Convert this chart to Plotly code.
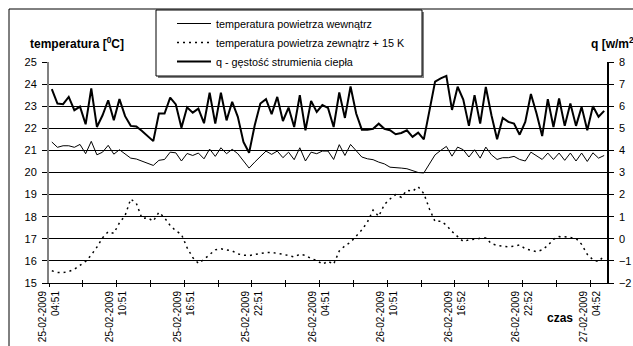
import plotly.graph_objects as go

# ---------------- data ----------------
tick_dates = ["25-02-2009", "25-02-2009", "25-02-2009", "25-02-2009",
              "26-02-2009", "26-02-2009", "26-02-2009", "26-02-2009",
              "27-02-2009"]
tick_times = ["04:51", "10:51", "16:51", "22:51",
              "04:51", "10:51", "16:52", "22:52", "04:52"]

# indoor air temperature [degC] (left axis)
t_inside = [
    21.38, 21.14, 21.21, 21.21, 21.14, 21.27, 20.85, 21.41, 20.80, 20.92,
    21.23, 20.83, 21.03, 20.85, 20.65, 20.61, 20.52, 20.42, 20.32, 20.55,
    20.59, 20.92, 20.89, 20.52, 20.86, 20.77, 20.88, 20.62, 21.06, 20.73,
    21.12, 20.85, 21.05,
    20.85, 20.52, 20.20, 20.47, 20.74, 20.97, 20.82, 20.97, 20.67, 20.92,
    20.58, 21.12, 20.52, 20.92, 20.85, 20.97, 20.97, 20.59, 21.26, 20.77,
    21.27, 20.97, 20.70, 20.62, 20.58, 20.47, 20.39, 20.24, 20.23, 20.20,
    20.17, 20.09, 20.00,
    19.98, 20.39, 20.80, 21.00, 21.18, 20.74, 21.15, 21.03, 20.70, 21.03,
    20.65, 21.15, 20.80, 20.59, 20.67, 20.67, 20.73, 20.59, 20.52, 20.92,
    20.74, 20.59, 20.88, 20.59, 20.88, 20.55, 20.88, 20.52, 20.88, 20.50,
    20.89, 20.65, 20.77,
]

# outdoor air temperature + 15 K [degC] (left axis)
t_outside_p15 = [
    15.55, 15.48, 15.47, 15.52, 15.62, 15.78, 15.98, 16.27, 16.62, 17.05,
    17.32, 17.25, 17.72, 18.05, 18.80, 18.60, 17.92, 17.95, 17.80, 18.20,
    17.95, 17.60, 17.36, 17.20, 16.60, 16.15, 15.89, 16.07, 16.28, 16.50,
    16.55, 16.50, 16.45,
    16.32, 16.26, 16.24, 16.28, 16.35, 16.38, 16.38, 16.35, 16.30, 16.24,
    16.18, 16.30, 16.25, 16.10, 16.03, 15.85, 15.98, 15.85, 16.45, 16.68,
    16.85, 17.12, 17.40, 17.76, 18.30, 18.02, 18.55, 18.80, 19.00, 18.88,
    19.20, 19.15, 19.35,
    19.05, 18.35, 17.78, 17.80, 17.62, 17.33, 17.10, 16.88, 16.95, 17.00,
    17.02, 17.04, 16.78, 16.70, 16.66, 16.64, 16.67, 16.72, 16.55, 16.48,
    16.42, 16.50, 16.70, 16.98, 17.10, 17.09, 17.07, 17.02, 16.75, 16.30,
    16.05, 15.97, 16.23,
]

# heat flux density q [W/m2] (right axis)
q_flux = [
    6.77, 6.12, 6.09, 6.42, 5.82, 5.98, 5.18, 6.80, 5.06, 5.59,
    6.27, 5.36, 6.32, 5.55, 5.11, 5.08, 4.88, 4.64, 4.42, 5.67,
    5.67, 6.39, 6.08, 5.03, 5.95, 5.71, 5.89, 5.23, 6.61, 5.21,
    6.61, 5.36, 6.20,
    5.52, 4.38, 3.89, 5.14, 6.12, 6.32, 5.64, 6.42, 5.33, 5.94,
    5.06, 6.50, 4.91, 6.24, 5.74, 6.05, 5.92, 5.06, 6.62, 5.47,
    6.89, 5.67, 4.94, 4.94, 4.98, 5.21, 4.98, 4.91, 4.73, 4.79,
    4.91, 4.61, 4.80,
    4.50, 5.80, 7.11, 7.26, 7.37, 5.83, 6.88, 6.30, 5.11, 6.50,
    5.21, 6.87, 5.59, 4.50, 5.47, 5.29, 5.21, 4.71, 5.29, 6.55,
    5.67, 4.65, 6.32, 5.06, 6.35, 5.11, 6.12, 5.11, 5.97, 4.91,
    6.00, 5.52, 5.79,
]

names = ["temperatura powietrza wewnątrz",
         "temperatura powietrza zewnątrz + 15 K",
         "q - gęstość strumienia ciepła"]

# ---------------- figure ----------------
W, H = 633, 346
L, R, T, B = 49, 26, 62, 63
PW, PH = W - L - R, H - T - B


def xp(px):
    return (px - L) / PW


def yp(py):
    return (H - B - py) / PH


n = len(q_flux)
x = [i + 0.5 for i in range(n)]          # category centres
major_vals = list(range(0, n, 12))
major_text = [d + "<br>" + t for d, t in zip(tick_dates, tick_times)]
minor_vals = list(range(6, n, 12))
all_vals = list(range(0, n, 6))

FONT = "Liberation Sans, Arial, sans-serif"

fig = go.Figure()
fig.add_trace(go.Scatter(x=x, y=t_inside, mode="lines", name=names[0],
                         line=dict(color="black", width=1)))
fig.add_trace(go.Scatter(x=x, y=t_outside_p15, mode="lines", name=names[1],
                         line=dict(color="black", width=1.5, dash="2px,4px"),
                         xaxis="x2"))
fig.add_trace(go.Scatter(x=x, y=q_flux, mode="lines", name=names[2],
                         line=dict(color="black", width=2), yaxis="y2"))

fig.update_layout(
    width=W, height=H,
    margin=dict(l=L, r=R, t=T, b=B, autoexpand=False),
    paper_bgcolor="white", plot_bgcolor="white",
    font=dict(family=FONT, size=11, color="black"),
    xaxis=dict(range=[0, n], tickmode="array", tickvals=major_vals,
               ticktext=major_text, tickangle=-90, ticks="outside", ticklen=3,
               tickcolor="black", showline=True, linecolor="black",
               linewidth=1, showgrid=False, zeroline=False,
               tickfont=dict(size=10),
               minor=dict(tickmode="array", tickvals=minor_vals,
                          ticks="outside", ticklen=3, tickcolor="black",
                          showgrid=False)),
    xaxis2=dict(overlaying="x", range=[0, n], tickmode="array",
                tickvals=all_vals, ticks="inside", ticklen=3,
                tickcolor="black", showticklabels=False, showgrid=False,
                zeroline=False, showline=False, anchor="y", side="bottom"),
    yaxis=dict(range=[15, 25], tick0=15, dtick=1, showgrid=True,
               gridcolor="black", gridwidth=1, ticks="outside", ticklen=5,
               tickcolor="black", showline=True, linecolor="#808080",
               linewidth=2, zeroline=False, ticklabelstandoff=3),
    yaxis2=dict(overlaying="y", side="right", range=[-2, 8], tick0=-2,
                dtick=1, showgrid=False, ticks="outside", ticklen=5,
                tickcolor="black", showline=True, linecolor="black",
                linewidth=1.5, zeroline=False, ticklabelstandoff=3),
    showlegend=True,
    legend=dict(x=xp(172), y=yp(9), xanchor="left", yanchor="top",
                bgcolor="rgba(0,0,0,0)", borderwidth=0, itemwidth=34,
                font=dict(size=10.8, color="black")),
)

fig.add_annotation(text="<b>temperatura [<sup>0</sup>C]</b>", xref="paper",
                   yref="paper", x=xp(28), y=yp(43), xanchor="left",
                   yanchor="middle", showarrow=False, font=dict(size=12))
fig.add_annotation(text="<b>q [w/m<sup>2</sup>]</b>", xref="paper",
                   yref="paper", x=xp(589), y=yp(43), xanchor="left",
                   yanchor="middle", showarrow=False, font=dict(size=12))
fig.add_annotation(text="<b>czas</b>", xref="paper", yref="paper",
                   x=xp(560), y=yp(318), xanchor="center", yanchor="middle",
                   showarrow=False, font=dict(size=12))

# chart-area border (top and left edges are visible in the picture)
fig.add_shape(type="line", xref="paper", yref="paper", x0=xp(9), x1=xp(700),
              y0=yp(9), y1=yp(9), line=dict(color="black", width=1))
fig.add_shape(type="line", xref="paper", yref="paper", x0=xp(9), x1=xp(9),
              y0=yp(9), y1=yp(400), line=dict(color="black", width=1))
# legend box with its shadow
fig.add_shape(type="rect", xref="paper", yref="paper", x0=xp(158), x1=xp(424),
              y0=yp(78), y1=yp(12), fillcolor="#808080",
              line=dict(width=0), layer="above")
fig.add_shape(type="rect", xref="paper", yref="paper", x0=xp(156), x1=xp(422),
              y0=yp(76), y1=yp(10), fillcolor="white",
              line=dict(color="black", width=1), layer="above")

fig.write_html("out.html",
               config={"displayModeBar": False},
               post_script="document.body.style.margin='0';"
                           "document.body.style.padding='0';")
